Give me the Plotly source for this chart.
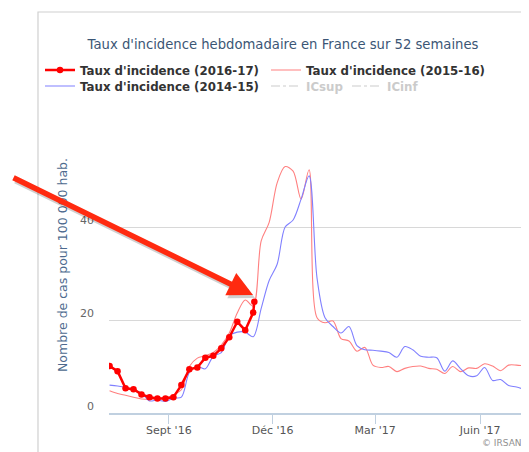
import pandas as pd
import plotly.graph_objects as go

# ---------------- data ----------------
start_date = "2016-07-11"
weeks = pd.date_range(start_date, periods=53, freq="7D")

dates_2016_17 = [d.strftime("%Y-%m-%d") for d in weeks[:19]] + ["2016-11-15"]
taux_2016_17 = [10.1, 9.0, 5.3, 5.1, 4.0, 3.4, 3.1, 3.1, 3.4, 6.0, 9.4, 9.8,
                11.9, 12.3, 13.9, 16.3, 19.6, 17.8, 21.6, 23.9]

taux_2015_16 = [4.8, 4.2, 3.8, 3.4, 3.0, 2.9, 3.0, 3.3, 3.9, 5.0, 10.0, 11.8,
                12.3, 13.0, 14.6, 17.2, 21.5, 24.3, 23.0, 37.0, 41.0, 49.5, 53.0,
                52.0, 46.0, 52.3, 20.5, 19.4, 19.8, 16.0, 15.5, 13.3, 14.1, 10.3,
                9.8, 10.0, 8.9, 9.6, 10.0, 10.1, 9.6, 9.4, 8.5, 10.0, 8.9, 9.7,
                9.6, 10.6, 10.1, 9.1, 10.3, 10.3, 10.1]

taux_2014_15 = [6.0, 5.8, 5.5, 5.0, 4.3, 2.6, 2.8, 2.5, 3.2, 3.4, 8.7, 10.0,
                9.5, 12.2, 13.0, 16.6, 17.4, 17.4, 16.4, 22.5, 28.5, 32.0, 40.0,
                41.5, 46.0, 51.0, 29.0, 20.5, 18.6, 17.2, 18.6, 14.5, 13.6, 13.5,
                13.3, 13.0, 12.0, 14.3, 13.6, 12.2, 12.0, 11.9, 9.0, 11.2, 9.5,
                8.0, 8.0, 9.8, 7.0, 7.2, 5.9, 5.6, 5.0]

x_tick_vals = ["2016-09-01", "2016-12-01", "2017-03-01", "2017-06-01"]
x_tick_text = ["Sept '16", "Déc '16", "Mar '17", "Juin '17"]
y_tick_vals = [0, 20, 40, 60]
y_tick_text = ["0", "20", "40", ""]

title_text = "Taux d'incidence hebdomadaire en France sur 52 semaines"
y_title = "Nombre de cas pour 100 000 hab."

# ---------------- geometry (page px -> figure px; page body has 8px margin) ----------------
OFF = 8
PAGE_W, PAGE_H = 529, 452
W, H = PAGE_W - OFF, PAGE_H - OFF
PLOT_L, PLOT_R, PLOT_T, PLOT_B = 109, 523, 134, 413  # page coords
ML, MR = PLOT_L - OFF, PAGE_W - PLOT_R
MT, MB = PLOT_T - OFF, PAGE_H - PLOT_B
PW, PH = PLOT_R - PLOT_L, PLOT_B - PLOT_T


def px_x(px):
    return (px - PLOT_L) / PW


def px_y(py):
    return (PLOT_B - py) / PH


def cx(px):
    return (px - OFF) / W


def cy(py):
    return 1 - (py - OFF) / H


fig = go.Figure()

fig.add_trace(go.Scatter(
    x=weeks, y=taux_2015_16, name="Taux d'incidence (2015-16)",
    mode="lines", line=dict(color="#ff8080", width=1.1, shape="spline", smoothing=0.9),
    legend="legend3"))

fig.add_trace(go.Scatter(
    x=weeks, y=taux_2014_15, name="Taux d'incidence (2014-15)",
    mode="lines", line=dict(color="#8080ff", width=1.1, shape="spline", smoothing=0.9),
    legend="legend2", legendwidth=181, legendrank=1))

fig.add_trace(go.Scatter(
    x=dates_2016_17, y=taux_2016_17, name="Taux d'incidence (2016-17)",
    mode="lines+markers", line=dict(color="#ff0000", width=2.5),
    marker=dict(color="#ff0000", size=6.5),
    legend="legend"))

fig.add_trace(go.Scatter(
    x=[None], y=[None], name="<span style='color:#999999'>ICsup</span>",
    mode="lines", line=dict(color="#999999", width=1, dash="dashdot"),
    visible="legendonly", legend="legend2", legendwidth=36, legendrank=2))

fig.add_trace(go.Scatter(
    x=[None], y=[None], name="<span style='color:#999999'>ICinf</span>",
    mode="lines", line=dict(color="#999999", width=1, dash="dashdot"),
    visible="legendonly", legend="legend2", legendwidth=30, legendrank=3))

legend_font = dict(family="DejaVu Sans", size=11.8, color="#333333", weight="bold")


def legend_box(x_page, y_page):
    return dict(orientation="h", xref="container", yref="container",
                x=cx(x_page), xanchor="left", y=cy(y_page), yanchor="middle",
                font=legend_font, bgcolor="rgba(0,0,0,0)", borderwidth=0,
                traceorder="normal", itemclick=False, itemdoubleclick=False)


fig.update_layout(
    width=W, height=H,
    margin=dict(l=ML, r=MR, t=MT, b=MB, autoexpand=False),
    paper_bgcolor="white", plot_bgcolor="white",
    font=dict(family="DejaVu Sans"),
    title=dict(text=title_text, x=cx(283), xanchor="center", xref="container",
               y=cy(44), yanchor="middle", yref="container",
               font=dict(family="DejaVu Sans", size=13.2, color="#3b5675")),
    legend=legend_box(40, 70),
    legend3=legend_box(266, 70),
    legend2=legend_box(40, 86),
    xaxis=dict(type="date", range=["2016-07-10 12:00", "2017-07-08 16:00"],
               tickvals=x_tick_vals, ticktext=x_tick_text,
               ticks="outside", ticklen=9, tickcolor="#C0D0E0", tickwidth=1,
               showline=True, linecolor="#C0D0E0", linewidth=2,
               showgrid=False, zeroline=False, ticklabelstandoff=-3,
               tickfont=dict(family="DejaVu Sans", size=11, color="#555555")),
    yaxis=dict(range=[0, 60], tickvals=y_tick_vals, ticktext=y_tick_text,
               showgrid=True, gridcolor="#d8d8d8", gridwidth=1,
               zeroline=False, showline=False, ticks="",
               ticklabelstandoff=14, ticklabelshift=-7,
               tickfont=dict(family="DejaVu Sans", size=11, color="#666666")),
    showlegend=True,
)

# container border
fig.add_shape(type="rect", xref="paper", yref="paper",
              x0=px_x(38), x1=px_x(700), y0=px_y(700), y1=px_y(12),
              line=dict(color="#d0d0d0", width=1.2), fillcolor="rgba(0,0,0,0)",
              layer="below")

# y axis title
fig.add_annotation(text=y_title, xref="paper", yref="paper",
                   x=px_x(62), y=px_y(265), textangle=-90, showarrow=False,
                   xanchor="center", yanchor="middle",
                   font=dict(family="DejaVu Sans", size=12.5, color="#4d6a8e"))

# credits
fig.add_annotation(text="© IRSAN", xref="paper", yref="paper",
                   x=px_x(524), y=px_y(443), showarrow=False,
                   xanchor="right", yanchor="middle",
                   font=dict(family="DejaVu Sans", size=9, color="#909090"))

# red arrow (with soft shadow)
tip_x, tip_y = 253, 295
tail_x, tail_y = 12, 177
fig.add_annotation(text="", xref="paper", yref="paper",
                   x=px_x(tip_x + 2), y=px_y(tip_y + 3),
                   ax=tail_x - tip_x, ay=tail_y - tip_y, axref="pixel", ayref="pixel",
                   showarrow=True, arrowhead=2, arrowsize=0.9, arrowwidth=5.5,
                   arrowcolor="rgba(0,0,0,0.18)")
fig.add_annotation(text="", xref="paper", yref="paper",
                   x=px_x(tip_x), y=px_y(tip_y),
                   ax=tail_x - tip_x, ay=tail_y - tip_y, axref="pixel", ayref="pixel",
                   showarrow=True, arrowhead=2, arrowsize=0.9, arrowwidth=5.5,
                   arrowcolor="#ff2a10")

fig.write_html("out.html")
